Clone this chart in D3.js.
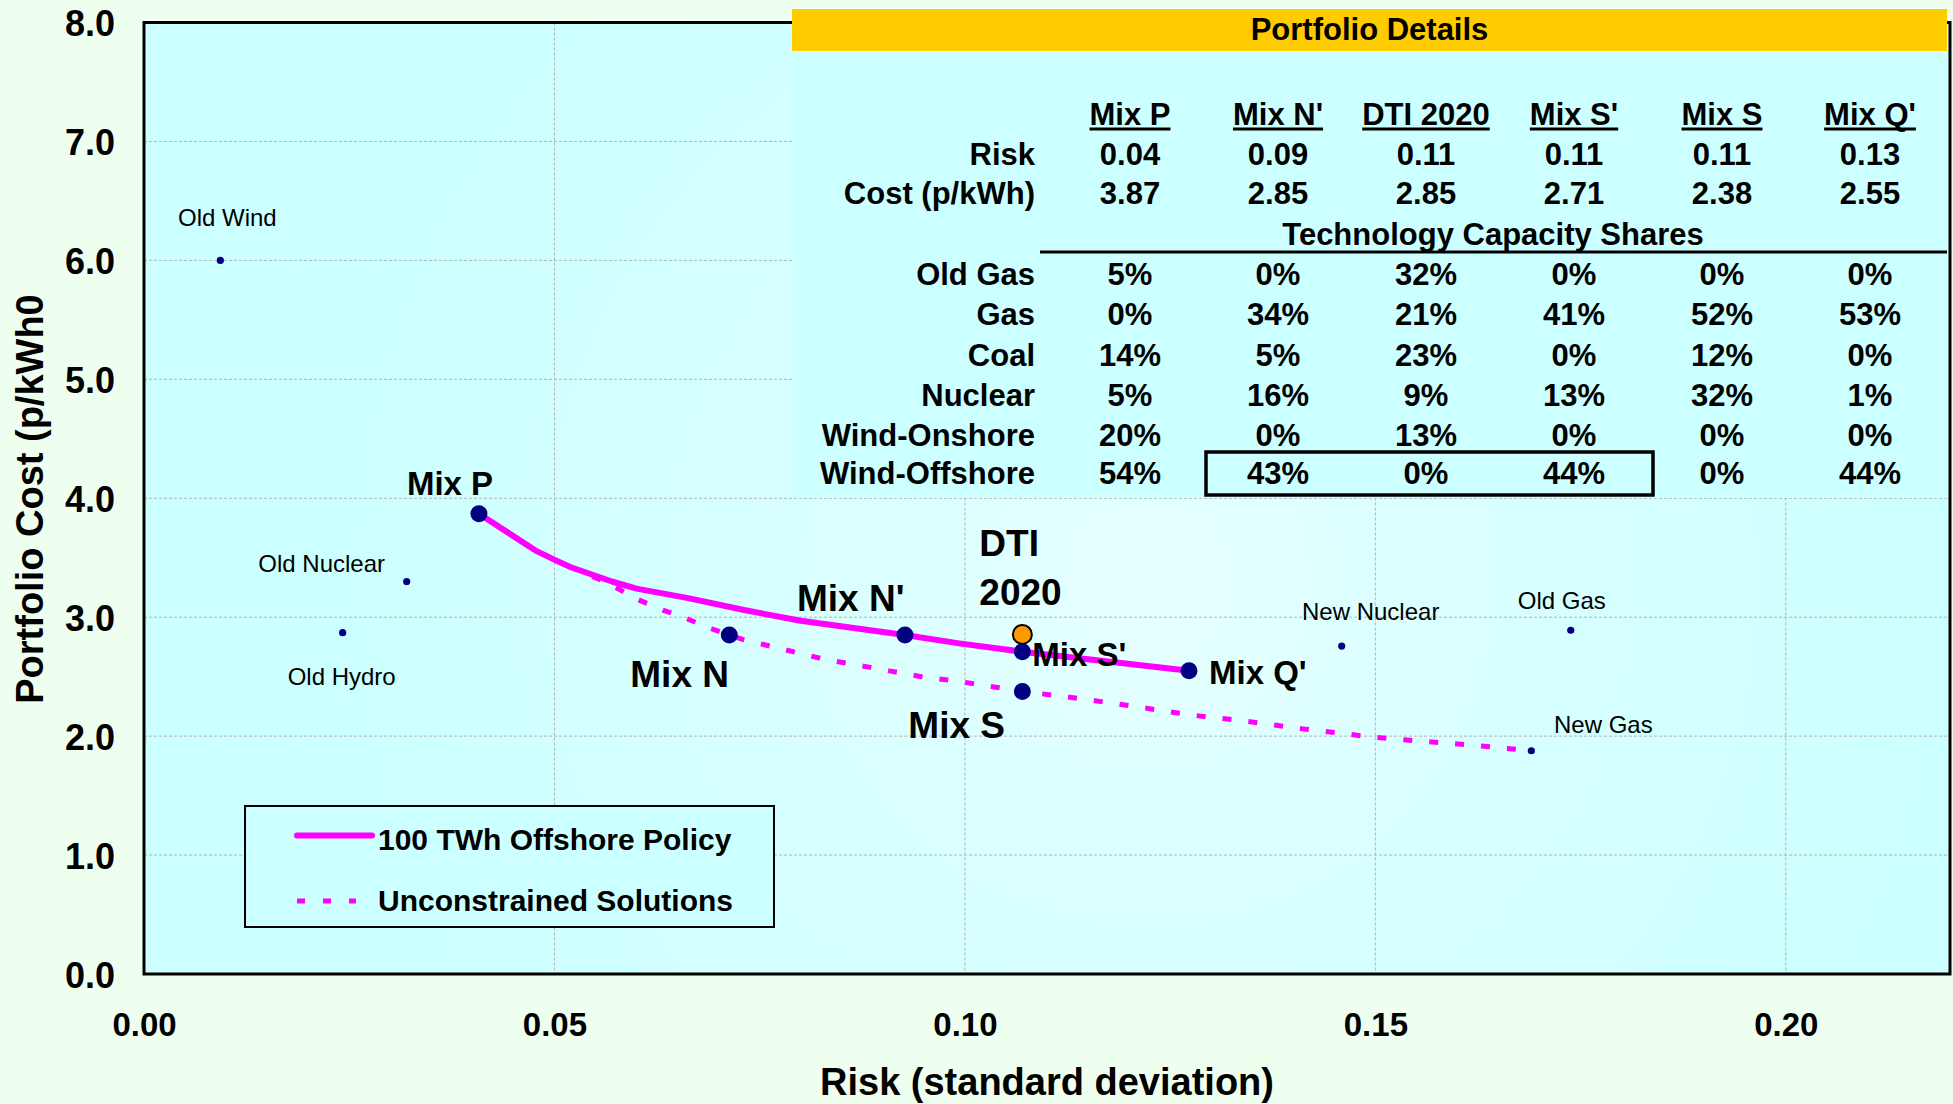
<!DOCTYPE html>
<html><head><meta charset="utf-8">
<script src="https://cdn.jsdelivr.net/npm/d3@7"></script>
<style>
html,body{margin:0;padding:0;background:#EFFFEF;overflow:hidden;}
svg{display:block;font-family:"Liberation Sans",Arial,sans-serif;}
</style></head><body>
<svg id="c" width="1953" height="1104"></svg>
<script>
// ---------------- DATA ----------------
const xTicks = [0, 0.05, 0.10, 0.15, 0.20];
const xTickLabels = ["0.00", "0.05", "0.10", "0.15", "0.20"];
const yTicks = [0, 1, 2, 3, 4, 5, 6, 7, 8];
const yTickLabels = ["0.0", "1.0", "2.0", "3.0", "4.0", "5.0", "6.0", "7.0", "8.0"];

// 100 TWh Offshore Policy frontier (solid)
const policyRisk = [0.0408, 0.0477, 0.0501, 0.0520, 0.0570, 0.0600, 0.0663, 0.0731, 0.0800, 0.0927, 0.0993, 0.1070, 0.1273];
const policyCost = [3.87, 3.56, 3.48, 3.42, 3.30, 3.24, 3.16, 3.06, 2.97, 2.85, 2.78, 2.71, 2.55];

// Unconstrained frontier (dashed)
const unconRisk = [0.0408, 0.0477, 0.0501, 0.0520, 0.0564, 0.0601, 0.0632, 0.0657, 0.0688, 0.0713, 0.0731, 0.0770, 0.0829, 0.0883, 0.0947, 0.0993, 0.1070, 0.1138, 0.1211, 0.1275, 0.1339, 0.1412, 0.1494, 0.1548, 0.1612, 0.1690];
const unconCost = [3.87, 3.56, 3.48, 3.42, 3.29, 3.15, 3.06, 3.00, 2.91, 2.85, 2.81, 2.745, 2.646, 2.58, 2.50, 2.46, 2.376, 2.318, 2.245, 2.178, 2.128, 2.061, 1.994, 1.961, 1.928, 1.877];

// Named portfolios
const mixNames = ["Mix P", "Mix N", "Mix N'", "DTI 2020", "Mix S'", "Mix S", "Mix Q'"];
const mixRisk = [0.0408, 0.0713, 0.0927, 0.1070, 0.1070, 0.1070, 0.1273];
const mixCost = [3.87, 2.85, 2.85, 2.855, 2.71, 2.376, 2.55];

// Single technologies
const techNames = ["Old Wind", "Old Nuclear", "Old Hydro", "New Nuclear", "Old Gas", "New Gas"];
const techRisk = [0.0093, 0.0320, 0.0242, 0.1459, 0.1738, 0.1690];
const techCost = [6.00, 3.30, 2.87, 2.757, 2.89, 1.877];

// Portfolio details table
const tableTitle = "Portfolio Details";
const tableColumns = ["Mix P", "Mix N'", "DTI 2020", "Mix S'", "Mix S", "Mix Q'"];
const tableRisk = ["0.04", "0.09", "0.11", "0.11", "0.11", "0.13"];
const tableCost = ["3.87", "2.85", "2.85", "2.71", "2.38", "2.55"];
const shareRowNames = ["Old Gas", "Gas", "Coal", "Nuclear", "Wind-Onshore", "Wind-Offshore"];
const shareOldGas = [5, 0, 32, 0, 0, 0];
const shareGas = [0, 34, 21, 41, 52, 53];
const shareCoal = [14, 5, 23, 0, 12, 0];
const shareNuclear = [5, 16, 9, 13, 32, 1];
const shareWindOnshore = [20, 0, 13, 0, 0, 0];
const shareWindOffshore = [54, 43, 0, 44, 0, 44];

const legendLabels = ["100 TWh Offshore Policy", "Unconstrained Solutions"];

// ---------------- LAYOUT ----------------
const svg = d3.select("#c");
const P = {left: 144, right: 1950, top: 22.5, bottom: 974};
const x = d3.scaleLinear().domain([0, 0.22]).range([P.left, P.right]);
const y = d3.scaleLinear().domain([0, 8]).range([P.bottom, P.top]);
const MAG = "#FF00FF", NAVY = "#000080";

const defs = svg.append("defs");
const rg = defs.append("radialGradient").attr("id", "bg")
  .attr("gradientUnits", "userSpaceOnUse").attr("cx", 1150).attr("cy", 580).attr("r", 820);
rg.append("stop").attr("offset", "0").attr("stop-color", "#E6FFFF");
rg.append("stop").attr("offset", "0.45").attr("stop-color", "#D8FFFF");
rg.append("stop").attr("offset", "1").attr("stop-color", "#CCFFFF");

// plot background
svg.append("rect").attr("x", P.left).attr("y", P.top)
  .attr("width", P.right - P.left).attr("height", P.bottom - P.top)
  .attr("fill", "url(#bg)");

// gridlines
const grid = svg.append("g").attr("stroke", "#B4B4B4").attr("stroke-width", 1).attr("stroke-dasharray", "3,2");
grid.selectAll(".gx").data(xTicks.filter(d => d > 0)).join("line")
  .attr("x1", d => x(d)).attr("x2", d => x(d)).attr("y1", P.top).attr("y2", P.bottom);
grid.selectAll(".gy").data(yTicks.filter(d => d > 0 && d < 8)).join("line")
  .attr("y1", d => y(d)).attr("y2", d => y(d)).attr("x1", P.left).attr("x2", P.right);

// plot border
svg.append("rect").attr("x", P.left).attr("y", P.top)
  .attr("width", P.right - P.left).attr("height", P.bottom - P.top)
  .attr("fill", "none").attr("stroke", "#000").attr("stroke-width", 3);

// axes tick labels
const xAxis = d3.axisBottom(x).tickValues(xTicks).tickFormat((d, i) => xTickLabels[i]).tickSize(0).tickPadding(0);
const gx = svg.append("g").attr("transform", `translate(0,${P.bottom})`).call(xAxis);
gx.select(".domain").remove();
gx.selectAll("text").attr("y", 62).attr("dy", null)
  .attr("font-family", "Liberation Sans, Arial, sans-serif")
  .attr("font-size", 33).attr("font-weight", "bold").attr("fill", "#000");

const yAxis = d3.axisLeft(y).tickValues(yTicks).tickFormat((d, i) => yTickLabels[i]).tickSize(0).tickPadding(0);
const gy = svg.append("g").attr("transform", `translate(115,0)`).call(yAxis);
gy.select(".domain").remove();
gy.selectAll("text").attr("x", 0).attr("dy", 13)
  .attr("font-family", "Liberation Sans, Arial, sans-serif")
  .attr("font-size", 36).attr("font-weight", "bold").attr("fill", "#000");

// axis titles
svg.append("text").attr("transform", "translate(43,499) rotate(-90)")
  .attr("text-anchor", "middle").attr("font-size", 38).attr("font-weight", "bold")
  .text("Portfolio Cost (p/kWh0");
svg.append("text").attr("x", (P.left + P.right) / 2).attr("y", 1095)
  .attr("text-anchor", "middle").attr("font-size", 38).attr("font-weight", "bold")
  .text("Risk (standard deviation)");

// curves
const line = d3.line().x(d => x(d[0])).y(d => y(d[1]));
svg.append("path").datum(d3.zip(unconRisk, unconCost)).attr("d", line)
  .attr("fill", "none").attr("stroke", MAG).attr("stroke-width", 5).attr("stroke-dasharray", "9,17");
svg.append("path").datum(d3.zip(policyRisk, policyCost)).attr("d", line)
  .attr("fill", "none").attr("stroke", MAG).attr("stroke-width", 6)
  .attr("stroke-linejoin", "round").attr("stroke-linecap", "round");

// technology points
const techLabelLayout = {
  "Old Wind": [7, -34], "Old Nuclear": [-85, -10], "Old Hydro": [-1, 52],
  "New Nuclear": [29, -26], "Old Gas": [-9, -21], "New Gas": [72, -18]
};
const techG = svg.append("g");
techNames.forEach((n, i) => {
  const cx = x(techRisk[i]), cy = y(techCost[i]);
  techG.append("circle").attr("cx", cx).attr("cy", cy).attr("r", 3.6).attr("fill", NAVY);
  techG.append("text").attr("x", cx + techLabelLayout[n][0]).attr("y", cy + techLabelLayout[n][1])
    .attr("text-anchor", "middle").attr("font-size", 24).attr("fill", "#000").text(n);
});

// portfolio markers (DTI first so Mix S' overlaps it)
const order = [3, 0, 1, 2, 4, 5, 6];
order.forEach(i => {
  const n = mixNames[i];
  const c = svg.append("circle").attr("cx", x(mixRisk[i])).attr("cy", y(mixCost[i]));
  if (n === "DTI 2020") c.attr("r", 9.5).attr("fill", "#FF9900").attr("stroke", "#000").attr("stroke-width", 2);
  else c.attr("r", 8.5).attr("fill", NAVY);
});

const mixLabelLayout = {
  "Mix P": {dx: -72, dy: -19, size: 33},
  "Mix N": {dx: -99, dy: 52, size: 37},
  "Mix N'": {dx: -108, dy: -24, size: 37},
  "DTI 2020": {dx: -43, dy: -78, size: 37, lines: ["DTI", "2020"], gap: 48.5},
  "Mix S'": {dx: 10, dy: 14.5, size: 33},
  "Mix S": {dx: -114, dy: 47, size: 37},
  "Mix Q'": {dx: 20, dy: 13, size: 33}
};
mixNames.forEach((n, i) => {
  const L = mixLabelLayout[n];
  const lines = L.lines || [n];
  lines.forEach((t, k) => {
    svg.append("text").attr("x", x(mixRisk[i]) + L.dx).attr("y", y(mixCost[i]) + L.dy + k * (L.gap || 0))
      .attr("font-size", L.size).attr("font-weight", "bold").attr("fill", "#000").text(t);
  });
});

// legend
const lg = svg.append("g");
lg.append("rect").attr("x", 245).attr("y", 806).attr("width", 529).attr("height", 121)
  .attr("fill", "#CCFFFF").attr("stroke", "#000").attr("stroke-width", 2);
lg.append("line").attr("x1", 297).attr("x2", 372).attr("y1", 835.5).attr("y2", 835.5)
  .attr("stroke", MAG).attr("stroke-width", 6).attr("stroke-linecap", "round");
lg.append("line").attr("x1", 297).attr("x2", 356).attr("y1", 901).attr("y2", 901)
  .attr("stroke", MAG).attr("stroke-width", 5).attr("stroke-dasharray", "8,18");
legendLabels.forEach((t, i) => {
  lg.append("text").attr("x", 378).attr("y", 850 + i * 61).attr("font-size", 30)
    .attr("font-weight", "bold").text(t);
});

// ---------------- TABLE ----------------
const tg = svg.append("g");
const T = {left: 792, right: 1947, headTop: 9, headBottom: 51, bottom: 498};
tg.append("rect").attr("x", T.left).attr("y", T.headBottom).attr("width", T.right - T.left)
  .attr("height", T.bottom - T.headBottom).attr("fill", "#CCFFFF");
tg.append("rect").attr("x", T.left).attr("y", T.headTop).attr("width", T.right - T.left)
  .attr("height", T.headBottom - T.headTop).attr("fill", "#FFCC00");
tg.append("text").attr("x", (T.left + T.right) / 2).attr("y", 39.5).attr("text-anchor", "middle")
  .attr("font-size", 31).attr("font-weight", "bold").text(tableTitle);

const col = d3.scalePoint().domain(tableColumns).range([1130, 1870]);
const FS = 31, labelRight = 1035;
// header
tableColumns.forEach(c => {
  const t = tg.append("text").attr("x", col(c)).attr("y", 125).attr("text-anchor", "middle")
    .attr("font-size", FS).attr("font-weight", "bold").text(c);
  const w = t.node().getComputedTextLength();
  tg.append("rect").attr("x", col(c) - w / 2).attr("y", 127.5).attr("width", w).attr("height", 3).attr("fill", "#000");
});
function row(label, vals, yb) {
  tg.append("text").attr("x", labelRight).attr("y", yb).attr("text-anchor", "end")
    .attr("font-size", FS).attr("font-weight", "bold").text(label);
  vals.forEach((v, i) => {
    tg.append("text").attr("x", col(tableColumns[i])).attr("y", yb).attr("text-anchor", "middle")
      .attr("font-size", FS).attr("font-weight", "bold").text(v);
  });
}
row("Risk", tableRisk, 165);
row("Cost (p/kWh)", tableCost, 204);
tg.append("text").attr("x", 1493).attr("y", 244.5).attr("text-anchor", "middle")
  .attr("font-size", FS).attr("font-weight", "bold").text("Technology Capacity Shares");
tg.append("rect").attr("x", 1040).attr("y", 250.5).attr("width", 907).attr("height", 3).attr("fill", "#000");
const shareRows = [shareOldGas, shareGas, shareCoal, shareNuclear, shareWindOnshore, shareWindOffshore];
const rowBase = [284.5, 324.5, 366, 405.5, 445.5, 484];
shareRowNames.forEach((n, k) => row(n, shareRows[k].map(v => v + "%"), rowBase[k]));
// highlight box around Wind-Offshore Mix N' .. Mix S'
tg.append("rect").attr("x", col("Mix N'") - 72).attr("y", 452)
  .attr("width", col("Mix S'") + 79 - (col("Mix N'") - 72)).attr("height", 43)
  .attr("fill", "none").attr("stroke", "#000").attr("stroke-width", 3.5);
</script>
</body></html>
